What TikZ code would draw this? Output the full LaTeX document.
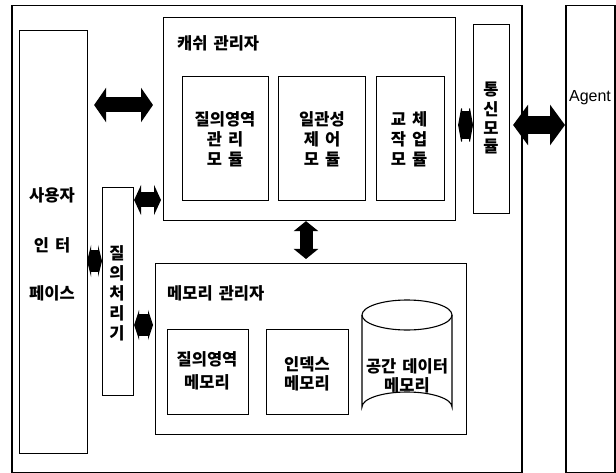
\documentclass[tikz,border=0pt]{standalone}
\usepackage{fontspec}
\setmainfont{Noto Sans CJK KR}[WordSpace=1.6]
\newfontfamily\agentfont{Liberation Sans}
\usetikzlibrary{arrows.meta}
\tikzset{
  box/.style={draw, line width=1.1pt, inner sep=0pt, minimum width=#1},
  frame/.style={draw, line width=1.5pt},
  lbl/.style={font=\fontsize{16.5}{20}\selectfont\bfseries, inner sep=0pt, align=center},
  dbl/.style n args={3}{line width=#1, {Triangle[length=#3,width=#2]}-{Triangle[length=#3,width=#2]}},
}
\begin{document}
\begin{tikzpicture}[x=1pt,y=-1pt]
\useasboundingbox (0,0) rectangle (616,473);
% outer frames
\node[frame, inner sep=0pt, anchor=north west, minimum width=510pt, minimum height=467pt] (outer) at (11,5) {};
\node[frame, inner sep=0pt, anchor=north west, minimum width=49pt, minimum height=467pt] (agent) at (565,5) {};
% user interface and query processor
\node[box=68pt, anchor=north west, minimum height=423pt] (ui) at (19,30) {};
\node[box=31pt, anchor=north west, minimum height=208pt] (qp) at (102,187) {};
% cache manager
\node[box=292pt, anchor=north west, minimum height=203pt] (cache) at (163,17) {};
\node[box=86pt, anchor=north west, minimum height=124pt] (c1) at (182,76) {};
\node[box=87pt, anchor=north west, minimum height=124pt] (c2) at (278,76) {};
\node[box=68pt, anchor=north west, minimum height=124pt] (c3) at (376,76) {};
% communication module
\node[box=36pt, anchor=north west, minimum height=189pt] (comm) at (473,24) {};
% memory manager
\node[box=311pt, anchor=north west, minimum height=171pt] (mem) at (155,263) {};
\node[box=81pt, anchor=north west, minimum height=85pt] (m1) at (167,329) {};
\node[box=82pt, anchor=north west, minimum height=85pt] (m2) at (266,329) {};
% cylinder
\draw[line width=1.1pt] (362,315) -- (362,407) arc[start angle=180, end angle=360, x radius=45, y radius=15] -- (452,315);
\draw[line width=1.1pt] (407,315) ellipse[x radius=45, y radius=15];
\node[inner sep=0pt, minimum width=90pt, minimum height=122pt] (m3) at (407,361) {};

% labels
\node[lbl, anchor=west] (tcache) at (177,43) {캐쉬 관리자};
\node[lbl, anchor=west] (tmem) at (167,293) {메모리 관리자};
\node[lbl] (tui1) at (52,195) {사용자};
\node[lbl] (tui2) at (52,245) {인 터};
\node[lbl] (tui3) at (52,293) {페이스};
\node[lbl] (tqp) at (117,293) {질\\의\\처\\리\\기};
\node[lbl] (tcomm1) at (491,90) {통};
\node[lbl] (tcomm2) at (491,109) {신};
\node[lbl] (tcomm3) at (491,128) {모};
\node[lbl] (tcomm4) at (491,147) {듈};
\node[lbl] (tc1) at (225,139) {질의영역\\관 리\\모 듈};
\node[lbl] (tc2) at (322,139) {일관성\\제 어\\모 듈};
\node[lbl] (tc3) at (409,139) {교 체\\작 업\\모 듈};
\node[lbl, font=\fontsize{16.5}{23}\selectfont\bfseries] (tm1) at (207,371) {질의영역\\메모리};
\node[lbl, font=\fontsize{16.5}{19}\selectfont\bfseries] (tm2) at (307,374) {인덱스\\메모리};
\node[lbl, font=\fontsize{16.5}{19}\selectfont\bfseries] (tm3) at (407,376) {공간 데이터\\메모리};
\node[inner sep=0pt, font=\agentfont\fontsize{16}{18}\selectfont] (tagent) at (590,98) {Agent};

% connectors
\draw[dbl={15pt}{34pt}{12pt}, shorten <=6pt, shorten >=10pt] (ui.east |- 0,105) -- (cache.west |- 0,105);
\draw[dbl={15pt}{30pt}{7pt}, shorten >=2pt] (qp.east |- 0,200) -- (cache.west |- 0,200);
\draw[dbl={13pt}{24pt}{10pt}, shorten >=4pt] (306,0 |- cache.south) -- (306,0 |- mem.north);
\draw[dbl={22pt}{32pt}{4pt}, shorten <=-1pt] (ui.east |- 0,261) -- (qp.west |- 0,261);
\draw[dbl={22pt}{30pt}{5pt}, shorten >=2pt] (qp.east |- 0,325) -- (mem.west |- 0,325);
\draw[dbl={28pt}{44pt}{4pt}, shorten <=2pt] (cache.east |- 0,125) -- (comm.west |- 0,125);
\draw[dbl={18pt}{40pt}{15pt}, shorten <=3pt] (comm.east |- 0,125) -- (agent.west |- 0,125);
\end{tikzpicture}
\end{document}
